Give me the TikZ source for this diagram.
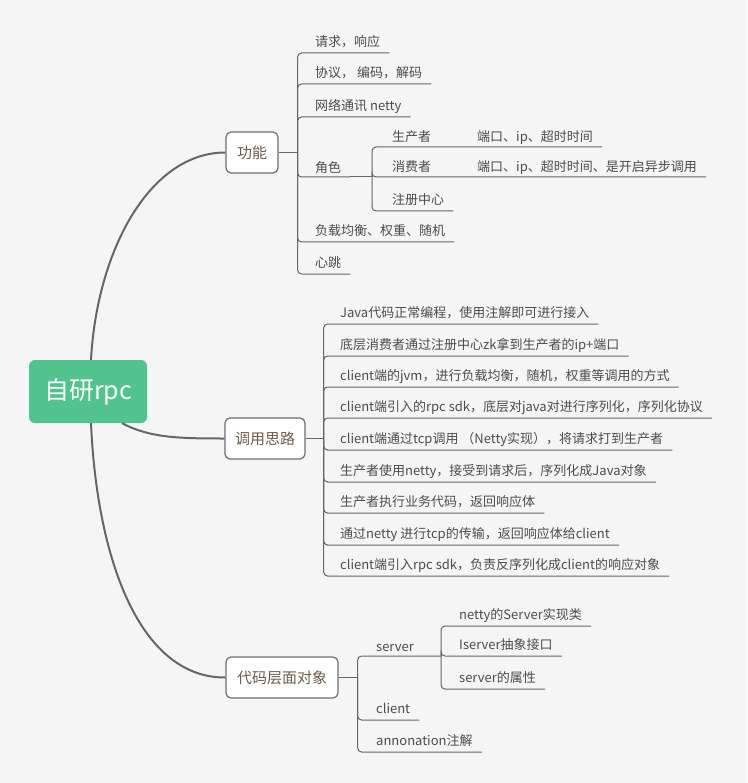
\documentclass[tikz,border=0pt]{standalone}
\usepackage{fontspec}
\setmainfont{Noto Sans CJK SC}
\definecolor{bgc}{HTML}{F5F5F5}
\definecolor{rootgreen}{HTML}{52C38C}
\definecolor{topictext}{HTML}{6E5B4B}
\definecolor{boxborder}{HTML}{6E6E6E}
\definecolor{leaftext}{HTML}{4C4C4C}
\definecolor{linec}{HTML}{666666}
\definecolor{curvec}{HTML}{666666}
\tikzset{
  rootbox/.style={fill=rootgreen, rounded corners=6pt, minimum width=118pt, minimum height=63pt, text=white, font=\fontsize{25}{25}\selectfont, inner sep=0pt},
  topic/.style={draw=boxborder, line width=1.2pt, fill=white, rounded corners=5pt, minimum height=41pt, text=topictext, font=\fontsize{15}{15}\selectfont, inner sep=0pt},
  leaf/.style={anchor=south west, inner xsep=9pt, inner ysep=0pt, text height=11pt, text depth=6.5pt, text=leaftext, font=\fontsize{13}{13}\selectfont},
  lowleaf/.style={leaf, text depth=4pt},
  branch/.style={draw=linec, line width=1pt, rounded corners=4pt},
  curve/.style={draw=curvec, line width=2pt}
}
\begin{document}
\begin{tikzpicture}[x=1pt,y=-1pt]
\fill[bgc] (0,0) rectangle (747,783);
\useasboundingbox (0,0) rectangle (747,783);

% main nodes
\node[rootbox] (root) at (88,391.5) {自研rpc};
\node[topic, minimum width=52pt] (g) at (252,152.5) {功能};
\node[topic, minimum width=80pt] (c) at (265,438.5) {调用思路};
\node[topic, minimum width=112pt] (d) at (282,677.5) {代码层面对象};

% main curves
\draw[curve] ([xshift=3pt]root.north) .. controls (97,250) and (150,152.5) .. (g.west);
\draw[curve] ([xshift=34pt]root.south) .. controls (150,438) and (180,438.5) .. (c.west);
\draw[curve] ([xshift=3pt]root.south) .. controls (97,560) and (140,678) .. (d.west);

% 功能 children
\coordinate (gs) at ([xshift=19pt]g.east);
\node[leaf] (g1) at (306,53) {请求，响应};
\node[leaf] (g2) at (306,84) {协议， 编码，解码};
\node[leaf] (g3) at (306,117) {网络通讯 netty};
\node[lowleaf] (g4) at (306,177) {角色};
\node[leaf] (g5) at (306,242) {负载均衡、权重、随机};
\node[leaf] (g6) at (306,274) {心跳};
\draw[branch] (g.east) -- (gs);
\foreach \n in {g1,g2,g3,g4,g5,g6}{
  \draw[branch] (gs) |- (\n.south west) -- (\n.south east);
}

% 角色 children
\coordinate (rs) at (372,177);
\node[leaf, text depth=5.5pt] (r1) at (383,147) {生产者};
\node[leaf, text depth=5.5pt] (r1d) at (468,147) {端口、ip、超时时间};
\node[leaf, text depth=5.5pt] (r2) at (383,177) {消费者};
\node[leaf, text depth=5.5pt] (r2d) at (468,177) {端口、ip、超时时间、是开启异步调用};
\node[leaf] (r3) at (383,211) {注册中心};
\draw[branch] (g4.south east) -- (rs);
\draw[branch] (rs) |- (r1.south west) -- (r1d.south east);
\draw[branch] (rs) |- (r2.south west) -- (r2d.south east);
\draw[branch] (rs) |- (r3.south west) -- (r3.south east);

% 调用思路 children
\coordinate (cs) at ([xshift=18pt]c.east);
\node[leaf] (c1) at (331,324) {Java代码正常编程，使用注解即可进行接入};
\node[leaf] (c2) at (331,356) {底层消费者通过注册中心zk拿到生产者的ip+端口};
\node[leaf] (c3) at (331,387) {client端的jvm，进行负载均衡，随机，权重等调用的方式};
\node[leaf] (c4) at (331,418) {client端引入的rpc sdk，底层对java对进行序列化，序列化协议};
\node[leaf] (c5) at (331,450) {client端通过tcp调用 （Netty实现），将请求打到生产者};
\node[leaf] (c6) at (331,482) {生产者使用netty，接受到请求后，序列化成Java对象};
\node[leaf] (c7) at (331,513) {生产者执行业务代码，返回响应体};
\node[leaf] (c8) at (331,545) {通过netty 进行tcp的传输，返回响应体给client};
\node[leaf] (c9) at (331,576) {client端引入rpc sdk，负责反序列化成client的响应对象};
\draw[branch] (c.east) -- (cs);
\foreach \n in {c1,c2,c3,c4,c5,c6,c7,c8,c9}{
  \draw[branch] (cs) |- (\n.south west) -- (\n.south east);
}

% 代码层面对象 children
\coordinate (ds) at ([xshift=19pt]d.east);
\node[lowleaf] (s) at (367,656) {server};
\node[leaf] (k) at (367,720) {client};
\node[leaf] (a) at (367,752) {annonation注解};
\draw[branch] (d.east) -- (ds);
\coordinate (ss) at (441,656);
\draw[branch] (ds) |- (s.south west) -- (ss);
\draw[branch] (ds) |- (k.south west) -- (k.south east);
\draw[branch] (ds) |- (a.south west) -- (a.south east);

% server children
\node[leaf] (s1) at (450,626) {netty的Server实现类};
\node[leaf] (s2) at (450,656) {Iserver抽象接口};
\node[leaf] (s3) at (450,689) {server的属性};
\foreach \n in {s1,s2,s3}{
  \draw[branch] (ss) |- (\n.south west) -- (\n.south east);
}
\end{tikzpicture}
\end{document}
